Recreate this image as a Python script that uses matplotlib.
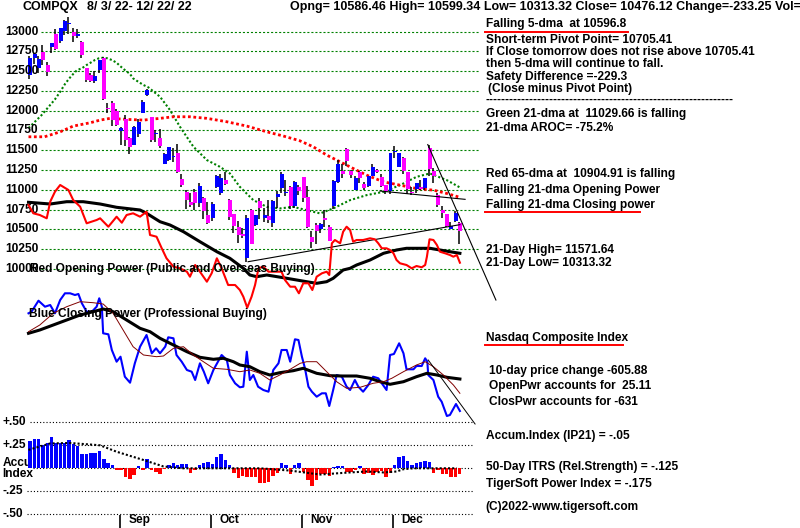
import matplotlib
matplotlib.use("Agg")
import matplotlib.pyplot as plt
import matplotlib.transforms as mtransforms
from matplotlib.lines import Line2D
import numpy as np

plt.rcParams['lines.scale_dashes'] = False
plt.rcParams['font.family'] = ['Liberation Sans', 'DejaVu Sans']

W, H = 800, 528

# ---------------- data ----------------
months = ['Sep', 'Oct', 'Nov', 'Dec']
month_start = [21, 42, 63, 84]
price_ticks = [10000, 10250, 10500, 10750, 11000, 11250, 11500, 11750,
               12000, 12250, 12500, 12750, 13000]
accum_ticks = [0.50, 0.25, 0.0, -0.25, -0.50]
accum_labels = ['+.50', '+.25', '', '-.25', '-.50']

opens = [12450, 12660, 12535, 12740, 12580, 12800, 12968, 12884, 13010, 13090,
         13000, 12943, 12871, 12535, 12451, 12379, 12514, 12661, 12034, 12100,
         11990, 11745, 11900, 11650, 11570, 11710, 11975, 12200, 11922, 11710,
         11660, 11330, 11375, 11415, 11460, 11140, 10970, 10850, 10970, 10830,
         10900, 10685, 10650, 11040, 10960, 11120, 10870, 10700, 10530, 10440,
         10140, 10740, 10550, 10860, 10650, 10670, 10580, 10910, 11020, 10960,
         11040, 10790, 11040, 11160, 10910, 10400, 10560, 10510, 10640, 10530,
         10800, 11100, 11240, 11520, 11240, 11000, 11220, 11070, 11050, 11180,
         11245, 11160, 11060, 10990, 11480, 11290, 11400, 11220, 10960, 11010,
         11030, 11020, 11525, 11240, 10940, 10750, 10690, 10510, 10600, 10586]
highs = [12693, 12727, 12685, 12830, 12612, 12860, 13026, 13047, 13147, 13181,
         13045, 13032, 12880, 12540, 12470, 12507, 12640, 12673, 12103, 12120,
         12020, 11791, 11945, 11665, 11810, 11900, 12136, 12270, 11922, 11757,
         11770, 11460, 11540, 11530, 11585, 11200, 10995, 10960, 11005, 11082,
         10905, 10850, 10840, 11190, 11200, 11230, 10880, 10700, 10610, 10520,
         10680, 10760, 10680, 10900, 10770, 10870, 10870, 10990, 11220, 11130,
         11050, 11110, 11060, 11160, 11050, 10480, 10580, 10575, 10740, 10560,
         11125, 11380, 11326, 11530, 11250, 11180, 11240, 11100, 11180, 11320,
         11265, 11200, 11060, 11470, 11555, 11470, 11420, 11230, 11040, 11080,
         11120, 11145, 11572, 11280, 10960, 10790, 10700, 10590, 10730, 10599]
lows = [12402, 12594, 12480, 12580, 12444, 12725, 12762, 12850, 12962, 12968,
        12868, 12915, 12670, 12360, 12360, 12345, 12470, 12138, 11966, 11800,
        11812, 11572, 11555, 11458, 11560, 11670, 11975, 12180, 11604, 11607,
        11530, 11321, 11370, 11350, 11210, 11030, 10755, 10780, 10745, 10785,
        10630, 10565, 10600, 11020, 10930, 11060, 10620, 10450, 10325, 10390,
        10089, 10310, 10540, 10630, 10590, 10580, 10530, 10770, 10960, 10920,
        10760, 10770, 10940, 10840, 10520, 10262, 10320, 10460, 10530, 10350,
        10760, 11080, 11150, 11300, 11150, 11000, 11080, 11000, 11030, 11170,
        11210, 11030, 10950, 10950, 11402, 11290, 11200, 10950, 10930, 10960,
        11000, 11000, 11180, 11080, 10780, 10640, 10530, 10500, 10590, 10313]
closes = [12668, 12721, 12658, 12644, 12494, 12855, 12780, 13047, 13128, 13103,
          12938, 12965, 12705, 12382, 12381, 12432, 12639, 12142, 12018, 11883,
          11816, 11785, 11631, 11545, 11792, 11862, 12112, 12266, 11634, 11720,
          11552, 11448, 11535, 11425, 11220, 11067, 10868, 10803, 10830, 11052,
          10738, 10576, 10815, 11176, 11149, 11073, 10652, 10542, 10426, 10417,
          10649, 10321, 10676, 10772, 10681, 10615, 10860, 10953, 11199, 10971,
          10793, 11102, 10988, 10891, 10525, 10343, 10475, 10565, 10616, 10353,
          11114, 11323, 11196, 11358, 11184, 11145, 11146, 11025, 11174, 11285,
          11226, 11050, 10984, 11468, 11482, 11462, 11240, 11015, 10959, 11082,
          11005, 11144, 11257, 11171, 10811, 10705, 10546, 10547, 10709, 10476]

# Green 21-dma (day, price)
ma21_x = [0, 3, 5, 6.1, 7.3, 8.4, 9.4, 10.3, 11.2, 12.3, 13.4, 14.3, 15.3, 16.2, 17.2,
          18.2, 19.2, 20.3, 21.1, 22.2, 23.4, 24.1, 25.3, 26.5, 27.6, 30.3, 32.6, 34.9,
          38, 41.1, 44.1, 46.4, 48.7, 51.8, 54.9, 57.9, 61, 64.1, 67.2, 70.2, 74.1,
          77.9, 81.8, 85.6, 89.4, 92.5, 96.4, 99.4]
ma21_v = [11780, 11943, 12072, 12143, 12239, 12336, 12408, 12463, 12513, 12535, 12577,
          12606, 12640, 12661, 12669, 12661, 12640, 12606, 12564, 12513, 12463, 12408,
          12365, 12324, 12295, 12176, 12008, 11797, 11544, 11376, 11291, 11207, 11038,
          10870, 10785, 10765, 10785, 10743, 10702, 10765, 10870, 10933, 10975, 11059,
          11164, 11207, 11122, 11030]
# Red 65-dma (day, price)
ma65_x = [0, 3.7, 7.3, 10.3, 14.2, 16.5, 18.8, 22.6, 26.5, 30.3, 33.4, 37.2, 41.1,
          45.7, 50.3, 54.9, 58.7, 62.5, 65.6, 68.7, 71.8, 74.8, 77.9, 81.8, 85.6,
          89.4, 93.3, 96.4, 99.4]
ma65_v = [11670, 11670, 11733, 11805, 11847, 11881, 11903, 11890, 11881, 11903, 11923,
          11923, 11903, 11860, 11805, 11733, 11680, 11620, 11544, 11439, 11354, 11270,
          11186, 11101, 11059, 11017, 10996, 10954, 10905]

# Red Opening Power (day, value) and its 21-dma (black)
op_x = [0, 1.1, 2.6, 4.2, 5.0, 6.1, 7.3, 9.2, 10.3, 11.9, 13.4, 15.7, 16.5, 18.4, 20.3,
        21.5, 22.6, 24.1, 25.7, 27.2, 28.0, 29.5, 30.7, 31.8, 33.4, 34.9, 36.5, 37.2,
        38.4, 39.5, 41.1, 42.2, 43.4, 44.5, 46.0, 47.6, 48.7, 49.5, 50.4, 51.4, 52.2,
        53.0, 54.1, 55.3, 56.8, 58.3, 59.1, 60.3, 61.4, 62.3, 63.3, 64.5, 65.4, 66.4,
        67.6, 68.7, 69.3, 69.9, 70.6, 71.8, 72.5, 73.3, 74.1, 74.8, 75.6, 77.1, 78.7,
        79.8, 80.6, 81.4, 82.5, 83.3, 84.1, 84.8, 85.6, 87.1, 88.3, 89.4, 90.6, 91.4,
        91.8, 92.4, 93.3, 94.1, 94.8, 96.0, 97.1, 97.9, 98.7, 99.4]
op_v = [95, 86.7, 85, 81.7, 98.3, 108.3, 115, 110, 100, 93.3, 76.7, 80, 81.7, 73.3, 83.3,
        77.3, 85, 86.7, 83.3, 88.3, 65, 63.3, 51.7, 41.7, 33.3, 31.7, 28.3, 23.3,
        35, 28.3, 18.3, 26.7, 41.7, 31.7, 15, 15, 10, 3.3, -7.7, 3.3, 15,
        31.7, 33.3, 28.3, 28.3, 28.3, 20, 13.3, 13.3, 6.7, 16.7, 16.7, 10, 23.3,
        26.7, 28.3, 25, 56.7, 60, 56.7, 68.3, 73.3, 70, 58.3, 60, 60, 61.7,
        60.7, 56.7, 51.7, 51.7, 50, 46.7, 40, 36.7, 35, 31.7, 34, 32.7, 35,
        43.3, 60.7, 60, 55, 48.3, 46.7, 45, 43.3, 45, 37.3]
opma_x = [0, 5.0, 8.8, 12.6, 16.5, 20.3, 25.7, 27.2, 30.3, 32.6, 35.7, 39.5, 43.4, 46.4,
          49.5, 51.0, 52.6, 54.9, 58.7, 61.8, 64.9, 66.4, 68.7, 70.2, 72.5, 74.1, 75.6,
          78.7, 81.8, 84.8, 87.1, 90.2, 92.5, 94.8, 97.1, 99.4]
opma_v = [97.7, 96, 98.3, 98.3, 96, 92.7, 90, 86.7, 78.3, 75, 68.3, 58.3, 48.3, 41.7,
          31.7, 25, 23.3, 25, 22.3, 20, 17.7, 16.7, 18.3, 21.7, 30, 31.7, 35,
          40, 46.7, 50, 51.7, 51.7, 51.7, 50, 48.3, 46.7]

# Blue Closing Power (day, value), its 21-dma (black) and short MA (brown)
cp_x = [0, 0.7, 2.3, 3.8, 5.0, 6.1, 7.3, 8.4, 9.6, 10.7, 11.5, 12.3, 13.4, 14.6, 15.7,
        16.3, 16.9, 17.2, 18.4, 19.2, 20.3, 21.2, 22.2, 23.4, 24.5, 25.7, 27.2, 28.4,
        29.4, 30.3, 31.5, 32.2, 33.4, 34.1, 35.3, 36.5, 37.6, 38.4, 39.5, 40.4, 41.4,
        42.6, 44.5, 45.7, 46.4, 47.6, 48.7, 49.5, 50.3, 51.0, 51.8, 52.9, 54.1, 55.3,
        56.4, 57.6, 58.3, 59.5, 60.3, 61.4, 62.2, 63.0, 63.7, 64.5, 65.3, 66.4, 67.6,
        68.5, 69.3, 70.2, 71.0, 72.2, 73.3, 74.1, 75.2, 76.0, 77.1, 78.3, 79.4, 80.6,
        81.4, 82.5, 83.3, 84.2, 85.4, 86.4, 87.1, 88.7, 89.4, 90.6, 91.4, 91.9, 92.1,
        93.3, 94.4, 95.2, 96.4, 97.1, 98.5, 99.4]
cp_v = [106.7, 108.3, 119.3, 113.3, 115, 106.7, 120, 126.7, 126.7, 125, 126, 116.7,
        108.3, 108.3, 113.3, 121.7, 113.3, 86.7, 85.7, 70, 58.3, 63.3, 43.3, 37.3,
        56.7, 73.3, 85, 66.7, 71.7, 66.7, 73.3, 82.7, 81.7, 65, 58.3, 50, 48.3, 40,
        56.7, 48.3, 36.7, 50, 65, 60, 45, 36.7, 32.7, 33.3, 68.3, 40, 45, 33.3, 30,
        28.3, 50, 56.7, 70, 70, 58.3, 80.7, 80, 63.3, 51.7, 33.3, 28.3, 23.3, 26.7,
        26.7, 14, 30, 45, 43.3, 33.3, 30, 40, 33.3, 28.3, 35, 43.3, 41.7, 36.7, 30,
        65, 66, 76.7, 66.7, 50.7, 50.7, 54, 54, 61.7, 58.3, 45, 40, 23.3, 18.3, 4,
        5, 16, 9]
cpma_x = [0, 2.6, 5.7, 8.8, 11.9, 14.9, 17.2, 19.5, 22.6, 25.7, 28.0, 30.3, 33.4, 36.5,
          39.5, 42.6, 44.9, 47.2, 48.7, 51.0, 53.3, 55.6, 57.9, 61.0, 63.3, 66.4, 69.5,
          72.5, 75.6, 78.7, 81.0, 83.3, 86.4, 89.4, 91.8, 94.1, 96.4, 99.4]
cpma_v = [86.7, 90, 95, 100, 105, 108.3, 111, 108.3, 100, 91.7, 88.3, 81.7, 75, 68.3,
          62.7, 60.7, 61.7, 58.3, 55, 53.3, 48.3, 45, 47.3, 49.3, 51.7, 46.7, 44.3,
          44, 44, 41.7, 38.3, 35.7, 38.3, 43.3, 46.7, 45, 42.7, 41]
cpma2_x = [0, 2.6, 5.7, 8.8, 11.9, 14.9, 17.2, 19.5, 21.8, 24.1, 26.5, 29.5, 31.1, 33.4,
           35.7, 38.0, 40.3, 42.6, 45.7, 48.7, 51.0, 53.3, 55.6, 57.9, 60.3, 62.6, 64.1,
           66.4, 68.7, 71.0, 73.3, 76.4, 79.4, 81.8, 83.7, 86.4, 89.4, 91.4, 93.3, 95.6,
           97.9, 99.4]
cpma2_v = [88.3, 95, 106.7, 113.3, 118.3, 117.3, 116, 106.7, 90, 73.3, 65, 63.3, 64,
           71.7, 73.3, 65, 58.3, 51.7, 50.7, 48.3, 50, 46.7, 40, 45, 50.7, 56.7, 58.3,
           58.3, 48.3, 38.3, 31.7, 32.7, 36.7, 38.3, 41.7, 48.3, 55, 58.3, 53.3, 45,
           35, 26.7]

# Accumulation Index (IP21), one value per day, and its moving average
accum = [0.296, 0.314, 0.32, 0.25, 0.27, 0.34, 0.27, 0.28, 0.275, 0.31,
         0.26, 0.24, 0.16, 0.16, 0.17, 0.17, 0.185, 0.10, 0.06, 0.035,
         -0.02, -0.02, -0.09, -0.12, -0.07, 0.025, -0.02, 0.10, -0.02, -0.035,
         -0.06, -0.01, 0.035, 0.06, 0.04, 0.045, 0.05, -0.05, -0.02, 0.04,
         0.06, 0.065, 0.05, 0.12, 0.16, 0.09, 0.035, -0.05, -0.11, -0.08,
         -0.09, -0.09, -0.09, -0.16, -0.16, -0.15, -0.08, -0.05, 0.06, 0.035,
         -0.06, 0.04, 0.06, -0.04, -0.13, -0.19, -0.13, -0.06, -0.06, -0.08,
         0.01, 0.02, 0.02, -0.04, -0.04, -0.02, 0.03, -0.06, -0.05, -0.07,
         -0.04, -0.03, -0.09, -0.05, 0.04, 0.125, 0.135, 0.08, 0.04, 0.06,
         0.07, 0.08, 0.07, -0.05, -0.02, -0.06, -0.06, -0.10, -0.09, -0.06]
acma_x = [0, 5, 9.6, 16.5, 20.3, 26.5, 31.1, 35.7, 48.7, 53.3, 60.3, 67.2, 71, 74.1,
          77.9, 81.8, 84.8, 86.4, 88.7, 98.7]
acma_v = [0.20, 0.27, 0.275, 0.25, 0.18, 0.09, 0.02, 0.0, 0.0, 0.0, -0.025, -0.068,
          -0.055, -0.045, -0.035, -0.045, -0.035, -0.01, 0.0, 0.0]

# Trend lines (day, value)
trend1 = ([50.6, 99.4], [10092, 10560])
trend2 = ([81.0, 100.6], [10985, 10880])
trend3 = ([92.0, 107.7], [11571.6, 9608])
cp_trend = ([92.1, 102.9], [60, -4])

# ---------------- figure ----------------
fig = plt.figure(figsize=(8, 5.28), dpi=100)
fig.patch.set_facecolor('white')
XL = (-28.5 / 4.34, (800 - 28.5) / 4.34)


def mk(ylim, z):
    a = fig.add_axes([0, 0, 1, 1])
    a.set_xlim(*XL)
    a.set_ylim(*ylim)
    a.axis('off')
    a.set_zorder(z)
    return a


ax_p = mk((6728.4, 13397.9), 1)
ax_op = mk((-228, 300), 2)
ax_cp = mk((-108, 420), 3)
ax_ac = mk((-0.649, 5.09), 4)

BLUE, MAG, RED, GREEN, BROWN = '#0000ff', '#ff00ff', '#ff0000', '#008000', '#800000'
FS = 8.6

# price grid
for p in price_ticks:
    ax_p.axhline(p, xmin=41 / W, xmax=480 / W, color=GREEN, lw=0.8,
                 dashes=(1.5, 1.4), zorder=1)
tp = mtransforms.blended_transform_factory(fig.transFigure, ax_p.transData)
for p in price_ticks:
    ax_p.text(5 / W, p, str(p), transform=tp, ha='left', va='center',
              fontsize=FS, fontweight='bold', color='black', zorder=5)

# moving averages of price
ax_p.plot(ma21_x, ma21_v, color=GREEN, lw=1.5, dashes=(1.5, 1.6), zorder=2)
ax_p.plot(ma65_x, ma65_v, color=RED, lw=2.0, dashes=(2.0, 1.9), zorder=2)

# candles
x = np.arange(len(closes))
o = np.array(opens); c = np.array(closes)
ax_p.vlines(x + 0.2, lows, highs, color='black', lw=1.1, zorder=3)
cols = [BLUE if cc >= oo else MAG for oo, cc in zip(o, c)]
ax_p.bar(x + 0.41, np.maximum(np.abs(c - o), 8), bottom=np.minimum(o, c),
         width=0.92, color=cols, linewidth=0, zorder=4)

for tx, ty in (trend1, trend2, trend3):
    ax_p.plot(tx, ty, color='black', lw=0.8, zorder=4)

# opening power
ax_op.plot(opma_x, opma_v, color='black', lw=2.2, solid_joinstyle='round')
ax_op.plot(op_x, op_v, color=RED, lw=1.5)

# closing power
ax_cp.plot(cp_x, cp_v, color=BLUE, lw=1.5)
ax_cp.plot(cpma_x, cpma_v, color='black', lw=2.2)
ax_cp.plot(cpma2_x, cpma2_v, color=BROWN, lw=0.7)
ax_cp.plot(*cp_trend, color='black', lw=0.7)

# accumulation index
for v, xm in zip(accum_ticks, [30, 30, 33, 27, 27]):
    ax_ac.axhline(v, xmin=xm / W, xmax=473 / W, color='black', lw=0.8,
                  dashes=(0.8, 1.5))
acc = np.array(accum)
ax_ac.bar(x + 0.35, acc, width=0.8, color=[BLUE if a >= 0 else RED for a in acc],
          linewidth=0, zorder=2)
ax_ac.plot(acma_x, acma_v, color='black', lw=1.5, dashes=(1.5, 1.5), zorder=3)
ta = mtransforms.blended_transform_factory(fig.transFigure, ax_ac.transData)
for v, lab in zip(accum_ticks, accum_labels):
    if lab:
        ax_ac.text(2.5 / W, v, lab, transform=ta, ha='left', va='center',
                   fontsize=FS, fontweight='bold')

# month ticks
ax_ac.vlines(month_start, -0.649, -0.508, color='black', lw=1.2)
for m, d in zip(months, month_start):
    ax_ac.text(d + 2.0, -0.565, m, ha='left', va='center', fontsize=FS,
               fontweight='bold')


# ---------------- texts ----------------
def ftext(xp, yp, s, fs=FS, **kw):
    fig.text(xp / W, 1 - yp / H, s, ha='left', va='center', fontsize=fs,
             fontweight='bold', **kw)


ftext(22.7, 7, 'COMPQX', fs=9.0)
ftext(86.7, 7, '8/ 3/ 22- 12/ 22/ 22', fs=9.0)
ftext(290, 7, 'Opng= 10586.46 High= 10599.34 Low= 10313.32 Close= 10476.12 Change=-233.25 Vol=',
      fs=9.0)
ftext(30, 269, 'Red Opening Power (Public and Overseas Buying)')
ftext(29, 314.3, 'Blue Closing Power (Professional Buying)')
ftext(2.5, 462.7, 'Accu')
ftext(2.5, 474.3, 'Index')

right_lines = [
    (485.5, 24.3, 'Falling 5-dma  at 10596.8'),
    (485.5, 40.3, 'Short-term Pivot Point= 10705.41'),
    (485.5, 52.3, 'If Close tomorrow does not rise above 10705.41'),
    (485.5, 64.0, 'then 5-dma will continue to fall.'),
    (485.5, 77.0, 'Safety Difference =-229.3'),
    (488.5, 88.7, '(Close minus Pivot Point)'),
    (485.5, 100.0, '-' * 62),
    (485.5, 113.7, 'Green 21-dma at  11029.66 is falling'),
    (485.5, 128.3, '21-dma AROC= -75.2%'),
    (485.5, 174.0, 'Red 65-dma at  10904.91 is falling'),
    (485.5, 190.0, 'Falling 21-dma Opening Power'),
    (485.5, 205.0, 'Falling 21-dma Closing power'),
    (485.5, 250.0, '21-Day High= 11571.64'),
    (485.5, 263.3, '21-Day Low= 10313.32'),
    (485.5, 338.3, 'Nasdaq Composite Index'),
    (489.3, 371.0, '10-day price change -605.88'),
    (489.3, 385.7, 'OpenPwr accounts for  25.11'),
    (489.3, 401.7, 'ClosPwr accounts for -631'),
    (485.5, 436.0, 'Accum.Index (IP21) = -.05'),
    (485.5, 466.7, '50-Day ITRS (Rel.Strength) = -.125'),
    (485.5, 484.3, 'TigerSoft Power Index = -.175'),
    (485.5, 506.7, '(C)2022-www.tigersoft.com'),
]
for xp, yp, s in right_lines:
    ftext(xp, yp, s)

for x0, x1, yy in [(485, 628, 31.7), (485, 640, 212.3), (485, 623, 345)]:
    fig.add_artist(Line2D([x0 / W, x1 / W], [1 - yy / H, 1 - yy / H], color=RED, lw=1.4))

fig.savefig('out.png', dpi=100, facecolor='white')
